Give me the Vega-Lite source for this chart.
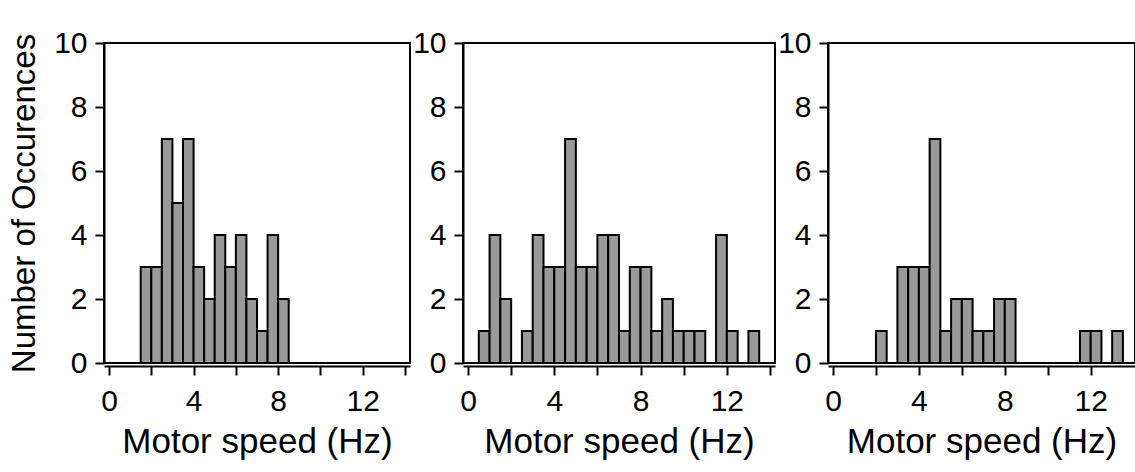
{
  "$schema": "https://vega.github.io/schema/vega-lite/v6.json",
  "padding": {"left": 7, "top": 27, "right": 0, "bottom": 0},
  "bounds": "flush",
  "spacing": 53,
  "background": "white",
  "config": {
    "view": {"stroke": "black", "strokeWidth": 2},
    "axis": {
      "grid": false,
      "domainColor": "black",
      "domainWidth": 2,
      "tickColor": "black",
      "tickWidth": 2,
      "labelFont": "Liberation Sans",
      "labelFontSize": 30,
      "labelColor": "black",
      "titleFont": "Liberation Sans",
      "titleFontSize": 33,
      "titleFontWeight": "normal",
      "titleColor": "black"
    },
    "axisX": {"offset": 3, "tickSize": 9, "labelPadding": 11, "titlePadding": 8, "labelFlush": false, "titleFontSize": 35},
    "axisY": {"tickSize": 9, "labelPadding": 8, "titlePadding": 12}
  },
  "datasets": {
    "h": [
      {"p": 1, "a": 1.5, "b": 2.0, "n": 3},
      {"p": 1, "a": 2.0, "b": 2.5, "n": 3},
      {"p": 1, "a": 2.5, "b": 3.0, "n": 7},
      {"p": 1, "a": 3.0, "b": 3.5, "n": 5},
      {"p": 1, "a": 3.5, "b": 4.0, "n": 7},
      {"p": 1, "a": 4.0, "b": 4.5, "n": 3},
      {"p": 1, "a": 4.5, "b": 5.0, "n": 2},
      {"p": 1, "a": 5.0, "b": 5.5, "n": 4},
      {"p": 1, "a": 5.5, "b": 6.0, "n": 3},
      {"p": 1, "a": 6.0, "b": 6.5, "n": 4},
      {"p": 1, "a": 6.5, "b": 7.0, "n": 2},
      {"p": 1, "a": 7.0, "b": 7.5, "n": 1},
      {"p": 1, "a": 7.5, "b": 8.0, "n": 4},
      {"p": 1, "a": 8.0, "b": 8.5, "n": 2},
      {"p": 2, "a": 0.5, "b": 1.0, "n": 1},
      {"p": 2, "a": 1.0, "b": 1.5, "n": 4},
      {"p": 2, "a": 1.5, "b": 2.0, "n": 2},
      {"p": 2, "a": 2.5, "b": 3.0, "n": 1},
      {"p": 2, "a": 3.0, "b": 3.5, "n": 4},
      {"p": 2, "a": 3.5, "b": 4.0, "n": 3},
      {"p": 2, "a": 4.0, "b": 4.5, "n": 3},
      {"p": 2, "a": 4.5, "b": 5.0, "n": 7},
      {"p": 2, "a": 5.0, "b": 5.5, "n": 3},
      {"p": 2, "a": 5.5, "b": 6.0, "n": 3},
      {"p": 2, "a": 6.0, "b": 6.5, "n": 4},
      {"p": 2, "a": 6.5, "b": 7.0, "n": 4},
      {"p": 2, "a": 7.0, "b": 7.5, "n": 1},
      {"p": 2, "a": 7.5, "b": 8.0, "n": 3},
      {"p": 2, "a": 8.0, "b": 8.5, "n": 3},
      {"p": 2, "a": 8.5, "b": 9.0, "n": 1},
      {"p": 2, "a": 9.0, "b": 9.5, "n": 2},
      {"p": 2, "a": 9.5, "b": 10.0, "n": 1},
      {"p": 2, "a": 10.0, "b": 10.5, "n": 1},
      {"p": 2, "a": 10.5, "b": 11.0, "n": 1},
      {"p": 2, "a": 11.5, "b": 12.0, "n": 4},
      {"p": 2, "a": 12.0, "b": 12.5, "n": 1},
      {"p": 2, "a": 13.0, "b": 13.5, "n": 1},
      {"p": 3, "a": 2.0, "b": 2.5, "n": 1},
      {"p": 3, "a": 3.0, "b": 3.5, "n": 3},
      {"p": 3, "a": 3.5, "b": 4.0, "n": 3},
      {"p": 3, "a": 4.0, "b": 4.5, "n": 3},
      {"p": 3, "a": 4.5, "b": 5.0, "n": 7},
      {"p": 3, "a": 5.0, "b": 5.5, "n": 1},
      {"p": 3, "a": 5.5, "b": 6.0, "n": 2},
      {"p": 3, "a": 6.0, "b": 6.5, "n": 2},
      {"p": 3, "a": 6.5, "b": 7.0, "n": 1},
      {"p": 3, "a": 7.0, "b": 7.5, "n": 1},
      {"p": 3, "a": 7.5, "b": 8.0, "n": 2},
      {"p": 3, "a": 8.0, "b": 8.5, "n": 2},
      {"p": 3, "a": 11.5, "b": 12.0, "n": 1},
      {"p": 3, "a": 12.0, "b": 12.5, "n": 1},
      {"p": 3, "a": 13.0, "b": 13.5, "n": 1}
    ]
  },
  "hconcat": [
    {
      "width": 306, "height": 320,
      "data": {"name": "h"},
      "transform": [{"filter": "datum.p == 1"}],
      "mark": {"type": "bar", "orient": "vertical", "fill": "#999999", "stroke": "black", "strokeWidth": 2},
      "encoding": {
        "x": {"field": "a", "type": "quantitative", "scale": {"domain": [0, 14], "nice": false, "zero": false},
              "axis": {"title": "Motor speed (Hz)", "values": [0, 2, 4, 6, 8, 10, 12, 14], "labelExpr": "datum.value % 4 === 0 ? datum.label : ''"}},
        "x2": {"field": "b"},
        "y": {"field": "n", "type": "quantitative", "scale": {"domain": [0, 10], "nice": false},
              "axis": {"title": "Number of Occurences", "values": [0, 2, 4, 6, 8, 10]}}
      }
    },
    {
      "width": 312, "height": 320,
      "data": {"name": "h"},
      "transform": [{"filter": "datum.p == 2"}],
      "mark": {"type": "bar", "orient": "vertical", "fill": "#999999", "stroke": "black", "strokeWidth": 2},
      "encoding": {
        "x": {"field": "a", "type": "quantitative", "scale": {"domain": [0, 14], "nice": false, "zero": false},
              "axis": {"title": "Motor speed (Hz)", "values": [0, 2, 4, 6, 8, 10, 12, 14], "labelExpr": "datum.value % 4 === 0 ? datum.label : ''"}},
        "x2": {"field": "b"},
        "y": {"field": "n", "type": "quantitative", "scale": {"domain": [0, 10], "nice": false},
              "axis": {"title": null, "values": [0, 2, 4, 6, 8, 10]}}
      }
    },
    {
      "width": 307, "height": 320,
      "data": {"name": "h"},
      "transform": [{"filter": "datum.p == 3"}],
      "mark": {"type": "bar", "orient": "vertical", "fill": "#999999", "stroke": "black", "strokeWidth": 2},
      "encoding": {
        "x": {"field": "a", "type": "quantitative", "scale": {"domain": [0, 13.83], "nice": false, "zero": false},
              "axis": {"title": "Motor speed (Hz)", "values": [0, 2, 4, 6, 8, 10, 12], "labelExpr": "datum.value % 4 === 0 ? datum.label : ''"}},
        "x2": {"field": "b"},
        "y": {"field": "n", "type": "quantitative", "scale": {"domain": [0, 10], "nice": false},
              "axis": {"title": null, "values": [0, 2, 4, 6, 8, 10]}}
      }
    }
  ]
}
